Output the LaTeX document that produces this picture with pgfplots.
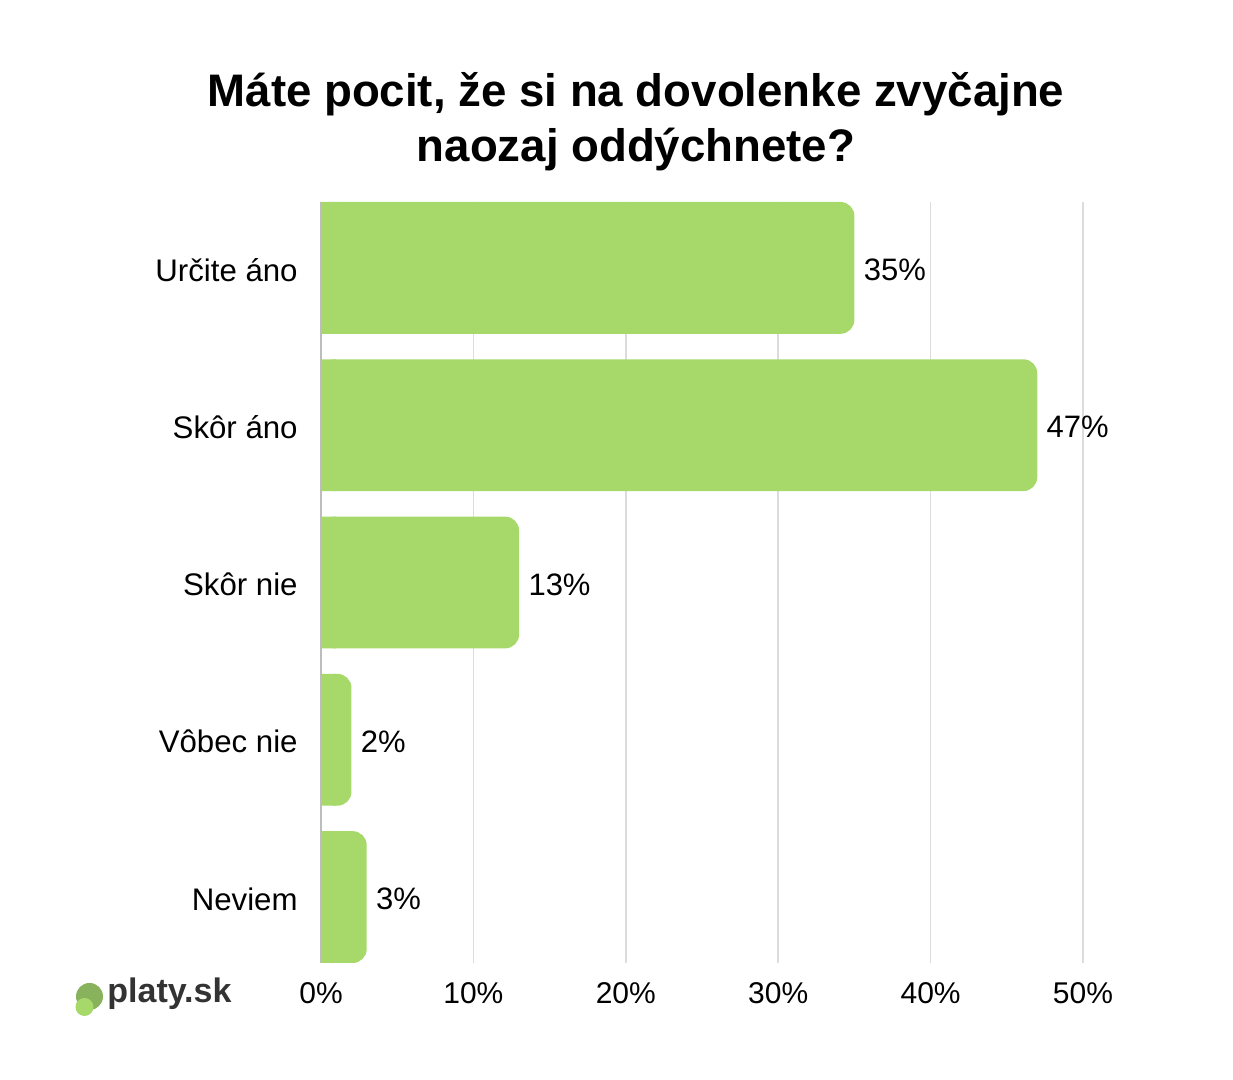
\documentclass[border=0pt]{standalone}
\usepackage{pgfplots}
\pgfplotsset{compat=1.18}
\usepackage{fontspec}
\setmainfont{Liberation Sans}
\definecolor{barc}{HTML}{A6D96A}
\definecolor{gridc}{HTML}{DCDCDC}
\definecolor{axisc}{HTML}{BDBDBD}
\definecolor{logodark}{HTML}{88B25C}
\definecolor{logotext}{HTML}{333333}
\begin{document}
\begin{tikzpicture}[x=0.5pt,y=0.5pt]
\path[use as bounding box] (0,0) rectangle (1233,1080);
\begin{axis}[
  at={(160.5pt,58.5pt)}, anchor=south west,
  scale only axis, width=381pt, height=380.5pt,
  xbar, bar width=0.838, bar shift=0pt,
  xmin=0, xmax=50, ymin=-0.419, ymax=4.419, y dir=reverse,
  ytick={0,1,2,3,4},
  yticklabels={Určite áno, Skôr áno, Skôr nie, Vôbec nie, Neviem},
  xtick={0,10,20,30,40,50},
  xticklabel={\pgfmathprintnumber{\tick}\%},
  /pgf/number format/assume math mode=true,
  major tick length=0pt,
  axis line style={draw=none},
  xmajorgrids, grid style={draw=gridc, line width=0.75pt},
  extra x ticks={0}, extra x tick labels={},
  extra x tick style={grid style={draw=axisc, line width=0.75pt}},
  yticklabel style={font=\fontsize{15.6}{18}\selectfont, inner sep=0pt, anchor=east, xshift=-11.5pt, yshift=-1pt},
  xticklabel style={font=\fontsize{15}{17}\selectfont, inner sep=0pt, anchor=north, yshift=-9.5pt},
  clip=false,
]
\addplot[fill=barc, draw=none, rounded corners=7pt,
  nodes near coords={\pgfmathprintnumber{\pgfplotspointmeta}\%},
  nodes near coords align=horizontal,
  every node near coord/.style={font=\fontsize{15.5}{18}\selectfont, text=black, anchor=west, inner sep=0pt, xshift=4.5pt, yshift=-1pt}]
  coordinates {(35,0) (47,1) (13,2) (2,3) (3,4)};
\addplot[fill=barc, draw=none, sharp corners]
  coordinates {(1,0) (1,1) (1,2) (1,3) (1,4)};
\end{axis}
\node[anchor=base, font=\fontsize{22.8}{26}\selectfont\bfseries] at (636,973) {Máte pocit, že si na dovolenke zvyčajne};
\node[anchor=base, font=\fontsize{22.8}{26}\selectfont\bfseries] at (636,918) {naozaj oddýchnete?};
\fill[logodark] (89.5,83.5) circle[radius=13.5];
\fill[barc] (84.5,73) circle[radius=9];
\node[anchor=base west, inner sep=0pt, text=logotext, font=\fontsize{17}{20}\selectfont\bfseries] at (107,77) {platy.sk};
\end{tikzpicture}
\end{document}
